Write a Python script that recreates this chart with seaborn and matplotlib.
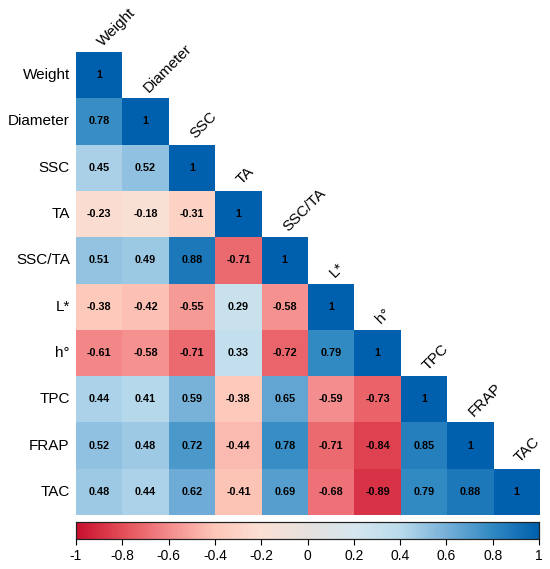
import numpy as np
import pandas as pd
import matplotlib
matplotlib.use("Agg")
import matplotlib.pyplot as plt
from matplotlib.colors import LinearSegmentedColormap
import seaborn as sns

variables = ["Weight", "Diameter", "SSC", "TA", "SSC/TA", "L*", "h°", "TPC", "FRAP", "TAC"]

# lower triangle of the correlation matrix, row by row
lower_rows = [
    [1],
    [0.78, 1],
    [0.45, 0.52, 1],
    [-0.23, -0.18, -0.31, 1],
    [0.51, 0.49, 0.88, -0.71, 1],
    [-0.38, -0.42, -0.55, 0.29, -0.58, 1],
    [-0.61, -0.58, -0.71, 0.33, -0.72, 0.79, 1],
    [0.44, 0.41, 0.59, -0.38, 0.65, -0.59, -0.73, 1],
    [0.52, 0.48, 0.72, -0.44, 0.78, -0.71, -0.84, 0.85, 1],
    [0.48, 0.44, 0.62, -0.41, 0.69, -0.68, -0.89, 0.79, 0.88, 1],
]

cbar_ticks = [-1, -0.8, -0.6, -0.4, -0.2, 0, 0.2, 0.4, 0.6, 0.8, 1]

palette = ["#C8102E", "#E44E58", "#F48C8C", "#FDC7B8", "#FBE0D4", "#E6E1DE",
           "#D6E6EE", "#BADBEC", "#76B0D8", "#3189C3", "#0060AD"]
cmap = LinearSegmentedColormap.from_list("corr", palette)

n = len(variables)
mat = np.full((n, n), np.nan)
for i, row in enumerate(lower_rows):
    for j, v in enumerate(row):
        mat[i, j] = v
        mat[j, i] = v
corr = pd.DataFrame(mat, index=variables, columns=variables)
mask = np.triu(np.ones((n, n), dtype=bool), k=1)
labels = np.vectorize(lambda v: f"{v:g}")(mat)

plt.rcParams["font.family"] = ["Liberation Sans", "DejaVu Sans"]

fig = plt.figure(figsize=(5.5, 5.69), dpi=100)
ax = fig.add_axes([76 / 550, 1 - 515 / 569, 464 / 550, 463 / 569])
cax = fig.add_axes([76 / 550, 1 - 539 / 569, 463 / 550, 17 / 569])

sns.heatmap(corr, mask=mask, cmap=cmap, vmin=-1, vmax=1, annot=labels, fmt="",
            annot_kws={"fontsize": 7.8, "fontweight": "bold", "color": "black"},
            square=False, ax=ax, cbar_ax=cax,
            cbar_kws={"orientation": "horizontal", "ticks": cbar_ticks})

ax.set_xticks([])
ax.set_xlabel("")
ax.set_ylabel("")
ax.tick_params(axis="y", length=0, pad=4.5, labelsize=11)
ax.set_yticklabels(variables, rotation=0)

# column names sit above each diagonal cell
for k, name in enumerate(variables):
    ax.text(k + 0.57, k - 0.12, name, rotation=45, ha="left", va="baseline",
            rotation_mode="anchor", fontsize=11, clip_on=False)

cax.set_xticklabels([f"{t:g}" for t in cbar_ticks])
cax.tick_params(axis="x", length=4, width=0.8, labelsize=10, pad=3, direction="out")
for s in cax.spines.values():
    s.set_visible(True)
    s.set_linewidth(0.8)
    s.set_color("#222222")

fig.savefig("out.png", dpi=100)
